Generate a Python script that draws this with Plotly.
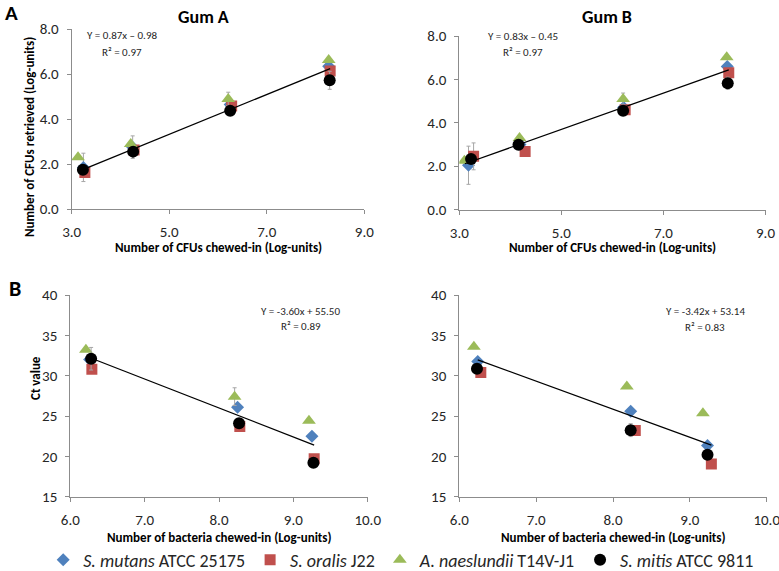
import plotly.graph_objects as go

# ---------------- data ----------------
series_names = ["<i>S. mutans</i> ATCC 25175", "<i>S. oralis</i> J22",
                "<i>A. naeslundii</i> T14V-J1", "<i>S. mitis</i> ATCC 9811"]

# Gum A (CFUs)
gumA_mutans_x = [3.24, 4.25, 6.25, 8.27]; gumA_mutans_y = [1.85, 2.75, 4.65, 6.35]; gumA_mutans_err = [0.63, 0.5, 0, 0]
gumA_oralis_x = [3.27, 4.28, 6.28, 8.30]; gumA_oralis_y = [1.62, 2.62, 4.58, 6.13]; gumA_oralis_err = [0, 0, 0, 0]
gumA_naesl_x = [3.13, 4.21, 6.21, 8.27]; gumA_naesl_y = [2.30, 2.89, 4.89, 6.62]; gumA_naesl_err = [0, 0, 0.3, 0]
gumA_mitis_x = [3.23, 4.26, 6.25, 8.29]; gumA_mitis_y = [1.74, 2.55, 4.37, 5.72]; gumA_mitis_err = [0, 0, 0, 0.4]
gumA_trend_x = [3.24, 8.30]; gumA_trend_y = [1.76, 6.24]

# Gum B (CFUs)
gumB_mutans_x = [3.18, 4.19, 6.22, 8.25]; gumB_mutans_y = [2.04, 3.00, 4.70, 6.59]; gumB_mutans_err = [0.88, 0, 0, 0]
gumB_oralis_x = [3.28, 4.29, 6.25, 8.28]; gumB_oralis_y = [2.45, 2.68, 4.60, 6.31]; gumB_oralis_err = [0.62, 0, 0, 0]
gumB_naesl_x = [3.10, 4.18, 6.21, 8.24]; gumB_naesl_y = [2.25, 3.30, 5.09, 7.02]; gumB_naesl_err = [0, 0, 0.28, 0]
gumB_mitis_x = [3.23, 4.16, 6.21, 8.26]; gumB_mitis_y = [2.33, 2.99, 4.55, 5.82]; gumB_mitis_err = [0, 0, 0, 0.28]
gumB_trend_x = [3.11, 8.28]; gumB_trend_y = [2.11, 6.44]

# Gum A (Ct)
ctA_mutans_x = [6.26, 8.25, 9.25]; ctA_mutans_y = [32.0, 26.1, 22.5]; ctA_mutans_err = [0, 0, 0]
ctA_oralis_x = [6.29, 8.28, 9.28]; ctA_oralis_y = [30.8, 23.7, 19.7]; ctA_oralis_err = [0, 0, 0]
ctA_naesl_x = [6.21, 8.21, 9.21]; ctA_naesl_y = [33.2, 27.4, 24.4]; ctA_naesl_err = [0, 1.1, 0]
ctA_mitis_x = [6.28, 8.27, 9.27]; ctA_mitis_y = [32.1, 24.1, 19.2]; ctA_mitis_err = [1.4, 0, 0]
ctA_trend_x = [6.30, 9.28]; ctA_trend_y = [32.1, 21.4]

# Gum B (Ct)
ctB_mutans_x = [6.24, 8.23, 9.23]; ctB_mutans_y = [31.75, 25.6, 21.35]; ctB_mutans_err = [0, 0, 0]
ctB_oralis_x = [6.28, 8.29, 9.28]; ctB_oralis_y = [30.4, 23.2, 19.05]; ctB_oralis_err = [0, 0, 0]
ctB_naesl_x = [6.19, 8.18, 9.17]; ctB_naesl_y = [33.6, 28.65, 25.35]; ctB_naesl_err = [0, 0, 0]
ctB_mitis_x = [6.23, 8.23, 9.23]; ctB_mitis_y = [30.85, 23.25, 20.2]; ctB_mitis_err = [0, 0.8, 0]
ctB_trend_x = [6.24, 9.28]; ctB_trend_y = [31.96, 21.4]

# ---------------- styling ----------------
W, H = 779, 571
colors = ["#4F81BD", "#C0504D", "#9BBB59", "#000000"]
symbols = ["diamond", "square", "triangle-up", "circle"]
sizes = [10, 11, 12, 12]
FONT = "Carlito, Lato, 'Liberation Sans', sans-serif"
AXIS_COL = "#8C8C8C"
TXT_COL = "#262626"

panels = [
    ("x", "y", [(gumA_mutans_x, gumA_mutans_y, gumA_mutans_err), (gumA_oralis_x, gumA_oralis_y, gumA_oralis_err),
                (gumA_naesl_x, gumA_naesl_y, gumA_naesl_err), (gumA_mitis_x, gumA_mitis_y, gumA_mitis_err)],
     (gumA_trend_x, gumA_trend_y)),
    ("x2", "y2", [(gumB_mutans_x, gumB_mutans_y, gumB_mutans_err), (gumB_oralis_x, gumB_oralis_y, gumB_oralis_err),
                  (gumB_naesl_x, gumB_naesl_y, gumB_naesl_err), (gumB_mitis_x, gumB_mitis_y, gumB_mitis_err)],
     (gumB_trend_x, gumB_trend_y)),
    ("x3", "y3", [(ctA_mutans_x, ctA_mutans_y, ctA_mutans_err), (ctA_oralis_x, ctA_oralis_y, ctA_oralis_err),
                  (ctA_naesl_x, ctA_naesl_y, ctA_naesl_err), (ctA_mitis_x, ctA_mitis_y, ctA_mitis_err)],
     (ctA_trend_x, ctA_trend_y)),
    ("x4", "y4", [(ctB_mutans_x, ctB_mutans_y, ctB_mutans_err), (ctB_oralis_x, ctB_oralis_y, ctB_oralis_err),
                  (ctB_naesl_x, ctB_naesl_y, ctB_naesl_err), (ctB_mitis_x, ctB_mitis_y, ctB_mitis_err)],
     (ctB_trend_x, ctB_trend_y)),
]

fig = go.Figure()
for pi, (xa, ya, series, trend) in enumerate(panels):
    for si, (sx, sy, se) in enumerate(series):
        fig.add_trace(go.Scatter(
            x=sx, y=sy, mode="markers", xaxis=xa, yaxis=ya,
            name=series_names[si], legendgroup=str(si), showlegend=(pi == 0),
            marker=dict(symbol=symbols[si], color=colors[si], size=sizes[si], line=dict(width=0)),
            error_y=dict(type="data", array=se, visible=True, color="#A6A6A6", thickness=1, width=2),
            hoverinfo="skip"))
    fig.add_trace(go.Scatter(x=trend[0], y=trend[1], mode="lines", xaxis=xa, yaxis=ya,
                             showlegend=False, line=dict(color="black", width=1.3), hoverinfo="skip"))

def px_x(p):
    return p / W

def px_y(p):
    return 1 - p / H

def axis(domain, rng, dtick, tick0, fmt, anchor):
    return dict(domain=domain, range=rng, dtick=dtick, tick0=tick0, tickformat=fmt, anchor=anchor,
                showgrid=False, zeroline=False, showline=True, linecolor=AXIS_COL, linewidth=1,
                ticks="outside", ticklen=4, tickcolor=AXIS_COL, tickwidth=1, automargin=False,
                ticklabeloverflow="allow",
                tickfont=dict(size=15, color=TXT_COL, family=FONT), ticklabelstandoff=5)

fig.update_layout(
    width=W, height=H, margin=dict(l=0, r=0, t=0, b=0, autoexpand=False),
    paper_bgcolor="white", plot_bgcolor="white",
    font=dict(family=FONT, color=TXT_COL),
    xaxis=axis([px_x(71.7), px_x(364.3)], [3, 9], 2, 3, ".1f", "y"),
    yaxis=axis([px_y(209), px_y(29)], [0, 8], 2, 0, ".1f", "x"),
    xaxis2=axis([px_x(459.3), px_x(765.5)], [3, 9], 2, 3, ".1f", "y2"),
    yaxis2=axis([px_y(209.5), px_y(36)], [0, 8], 2, 0, ".1f", "x2"),
    xaxis3=axis([px_x(70.3), px_x(367.7)], [6, 10], 1, 6, ".1f", "y3"),
    yaxis3=axis([px_y(496.7), px_y(295)], [15, 40], 5, 15, "d", "x3"),
    xaxis4=axis([px_x(459.3), px_x(766.7)], [6, 10], 1, 6, ".1f", "y4"),
    yaxis4=axis([px_y(496.7), px_y(295)], [15, 40], 5, 15, "d", "x4"),
    legend=dict(orientation="h", x=0.515, xanchor="center", yref="container", y=1 - 560 / H, yanchor="middle",
                font=dict(size=18, color=TXT_COL, family=FONT), itemwidth=30,
                bgcolor="rgba(0,0,0,0)", tracegroupgap=0),
    showlegend=True,
)

def ann(text, x, y, size, bold=False, angle=0):
    fig.add_annotation(text=f"<b>{text}</b>" if bold else text, x=px_x(x), y=px_y(y),
                       xref="paper", yref="paper", showarrow=False, textangle=angle,
                       xanchor="center", yanchor="middle",
                       font=dict(size=size, color="black" if bold else TXT_COL, family=FONT))

ann("A", 11, 13, 21, bold=True)
ann("B", 15, 288, 22, bold=True)
ann("Gum A", 203, 17, 18, bold=True)
ann("Gum B", 607, 17, 18, bold=True)
ann("Number of CFUs retrieved (Log-units)", 29, 137, 13, bold=True, angle=-90)
ann("Ct value", 35, 378, 13, bold=True, angle=-90)
ann("Number of CFUs chewed-in (Log-units)", 218, 247, 13, bold=True)
ann("Number of CFUs chewed-in (Log-units)", 612, 248, 13, bold=True)
ann("Number of bacteria chewed-in (Log-units)", 219, 537, 13, bold=True)
ann("Number of bacteria chewed-in (Log-units)", 613, 537, 13, bold=True)
ann("Y = 0.87x \u2013 0.98", 122, 35, 11)
ann("R\u00b2 = 0.97", 122, 52, 11)
ann("Y = 0.83x \u2013 0.45", 523, 36, 11)
ann("R\u00b2 = 0.97", 523, 52, 11)
ann("Y = -3.60x + 55.50", 300, 312, 11)
ann("R\u00b2 = 0.89", 301, 326, 11)
ann("Y = -3.42x + 53.14", 705, 312, 11)
ann("R\u00b2 = 0.83", 705, 327, 11)

fig.write_html("out.html", config={"displayModeBar": False},
               post_script="document.body.style.margin='0';")
